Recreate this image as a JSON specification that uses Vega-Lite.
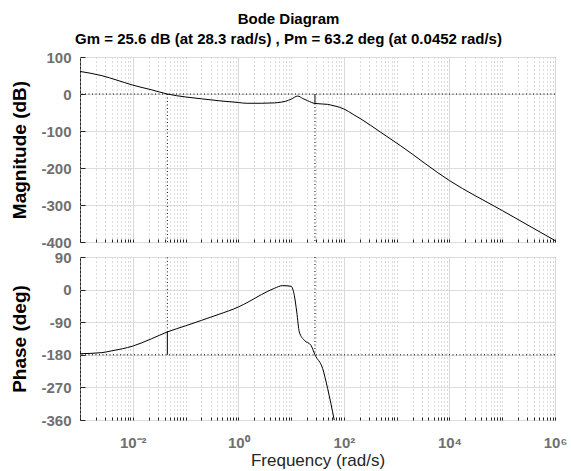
{
  "$schema": "https://vega.github.io/schema/vega-lite/v6.json",
  "autosize": {"type": "pad"},
  "padding": {"left": 9, "top": 11, "right": 5, "bottom": 3},
  "background": "white",
  "config": {
    "font": "Liberation Sans",
    "view": {"stroke": "#262626", "strokeWidth": 1},
    "axis": {
      "domain": false,
      "labelFont": "Liberation Sans",
      "labelFontWeight": "bold",
      "labelColor": "#6f6f6f",
      "labelFontSize": 15,
      "labelOverlap": false,
      "tickColor": "#262626",
      "gridWidth": 1,
      "gridOpacity": 1,
      "gridColor": "#dcdcdc",
      "titleFont": "Liberation Sans",
      "titleColor": "black"
    }
  },
  "datasets": {
    "mag": [
      {"f": 0.001, "mag": 61},
      {"f": 0.0026, "mag": 49.5},
      {"f": 0.005, "mag": 37.5},
      {"f": 0.01, "mag": 24},
      {"f": 0.0224, "mag": 11.5},
      {"f": 0.0452, "mag": 0},
      {"f": 0.1, "mag": -8},
      {"f": 0.2, "mag": -13},
      {"f": 0.414, "mag": -18},
      {"f": 1, "mag": -23},
      {"f": 1.41, "mag": -25},
      {"f": 2.72, "mag": -25},
      {"f": 4.84, "mag": -24},
      {"f": 6.5, "mag": -22},
      {"f": 7.9, "mag": -19.5},
      {"f": 10, "mag": -14},
      {"f": 13.4, "mag": -5.5},
      {"f": 16.5, "mag": -12},
      {"f": 20.5, "mag": -18},
      {"f": 28.3, "mag": -25.6},
      {"f": 49, "mag": -28},
      {"f": 65, "mag": -32},
      {"f": 83, "mag": -36},
      {"f": 100, "mag": -40.5},
      {"f": 150, "mag": -55},
      {"f": 210, "mag": -67.5},
      {"f": 500, "mag": -103.5},
      {"f": 1190, "mag": -140},
      {"f": 10000, "mag": -234},
      {"f": 100000, "mag": -315},
      {"f": 1000000, "mag": -396}
    ],
    "phase": [
      {"f": 0.001, "phase": -177},
      {"f": 0.0026, "phase": -174},
      {"f": 0.004, "phase": -169},
      {"f": 0.01, "phase": -156},
      {"f": 0.0224, "phase": -136},
      {"f": 0.0452, "phase": -116.8},
      {"f": 0.1, "phase": -100},
      {"f": 0.2, "phase": -85},
      {"f": 0.414, "phase": -69},
      {"f": 1, "phase": -48},
      {"f": 1.6, "phase": -33},
      {"f": 2.72, "phase": -14},
      {"f": 4.84, "phase": 3.7},
      {"f": 6.97, "phase": 11},
      {"f": 10, "phase": 9},
      {"f": 11.5, "phase": -16},
      {"f": 12.8, "phase": -62},
      {"f": 14.3, "phase": -117},
      {"f": 17.8, "phase": -140},
      {"f": 23.8, "phase": -154},
      {"f": 28.3, "phase": -180},
      {"f": 39.6, "phase": -218},
      {"f": 49.2, "phase": -273},
      {"f": 65.6, "phase": -360}
    ],
    "margins": [
      {"wcg": 28.3, "gm_db": -25.6, "wcp": 0.0452, "pm_phase": -116.8}
    ]
  },
  "bounds": "flush",
  "spacing": 15,
  "vconcat": [
    {
      "width": 475,
      "height": 185,
      "title": {
        "text": "Bode Diagram",
        "subtitle": "Gm = 25.6 dB (at 28.3 rad/s) ,  Pm = 63.2 deg (at 0.0452 rad/s)",
        "anchor": "middle",
        "dx": -29,
        "font": "Liberation Sans",
        "fontSize": 15,
        "fontWeight": "bold",
        "color": "black",
        "subtitleFont": "Liberation Sans",
        "subtitleFontSize": 15,
        "subtitleFontWeight": "bold",
        "subtitleColor": "black",
        "subtitlePadding": 5,
        "offset": 3
      },
      "layer": [
        {
          "data": {"name": "mag"},
          "mark": {"type": "line", "color": "black", "strokeWidth": 1, "interpolate": "monotone", "clip": true},
          "encoding": {
            "x": {
              "field": "f", "type": "quantitative",
              "scale": {"type": "log", "domain": [0.001, 1000000], "nice": false},
              "axis": {
                "title": null,
                "labels": false,
                "values": [0.001,0.002,0.003,0.004,0.005,0.006,0.007,0.008,0.009,0.01,0.02,0.03,0.04,0.05,0.06,0.07,0.08,0.09,0.1,0.2,0.3,0.4,0.5,0.6,0.7,0.8,0.9,1,2,3,4,5,6,7,8,9,10,20,30,40,50,60,70,80,90,100,200,300,400,500,600,700,800,900,1000,2000,3000,4000,5000,6000,7000,8000,9000,10000,20000,30000,40000,50000,60000,70000,80000,90000,100000,200000,300000,400000,500000,600000,700000,800000,900000,1000000],
                "tickSize": -3,
                "gridDash": {"condition": {"test": "abs(log(datum.value)/LN10 - round(log(datum.value)/LN10)) < 0.001 && round(log(datum.value)/LN10) % 2 == 0", "value": []}, "value": [1, 3]},
                "gridColor": {"condition": {"test": "abs(log(datum.value)/LN10 - round(log(datum.value)/LN10)) < 0.001 && round(log(datum.value)/LN10) % 2 == 0", "value": "#d9d9d9"}, "value": "#b8b8b8"}
              }
            },
            "y": {
              "field": "mag", "type": "quantitative",
              "scale": {"domain": [-400, 100], "nice": false, "zero": false},
              "axis": {"title": "Magnitude (dB)", "values": [-400, -300, -200, -100, 0, 100], "labelOverlap": false, "labelExpr": "'' + datum.value", "tickSize": -5, "labelPadding": 14, "titleFontSize": 19, "titleFontWeight": "bold", "titleAngle": 270, "titleBaseline": "alphabetic", "titleX": -55}
            }
          }
        },
        {
          "data": {"name": "margins"},
          "mark": {"type": "rule", "color": "black", "strokeWidth": 1, "strokeDash": [1, 2.5]},
          "encoding": {"y": {"datum": 0, "type": "quantitative", "axis": {"title": "Magnitude (dB)", "values": [-400, -300, -200, -100, 0, 100], "labelOverlap": false, "labelExpr": "'' + datum.value", "tickSize": -5, "labelPadding": 14, "titleFontSize": 19, "titleFontWeight": "bold", "titleAngle": 270, "titleBaseline": "alphabetic", "titleX": -55}}}
        },
        {
          "data": {"name": "margins"},
          "mark": {"type": "rule", "color": "black", "strokeWidth": 1, "strokeDash": [1, 2.5]},
          "encoding": {"x": {"field": "wcp", "type": "quantitative"}, "y": {"datum": 0, "type": "quantitative", "axis": {"title": "Magnitude (dB)", "values": [-400, -300, -200, -100, 0, 100], "labelOverlap": false, "labelExpr": "'' + datum.value", "tickSize": -5, "labelPadding": 14, "titleFontSize": 19, "titleFontWeight": "bold", "titleAngle": 270, "titleBaseline": "alphabetic", "titleX": -55}}, "y2": {"datum": -400}}
        },
        {
          "data": {"name": "margins"},
          "mark": {"type": "rule", "color": "black", "strokeWidth": 1, "strokeDash": [1, 2.5]},
          "encoding": {"x": {"field": "wcg", "type": "quantitative"}, "y": {"field": "gm_db", "type": "quantitative", "axis": {"title": "Magnitude (dB)", "values": [-400, -300, -200, -100, 0, 100], "labelOverlap": false, "labelExpr": "'' + datum.value", "tickSize": -5, "labelPadding": 14, "titleFontSize": 19, "titleFontWeight": "bold", "titleAngle": 270, "titleBaseline": "alphabetic", "titleX": -55}}, "y2": {"datum": -400}}
        },
        {
          "data": {"name": "margins"},
          "mark": {"type": "rule", "color": "black", "strokeWidth": 1},
          "encoding": {"x": {"field": "wcg", "type": "quantitative"}, "y": {"field": "gm_db", "type": "quantitative", "axis": {"title": "Magnitude (dB)", "values": [-400, -300, -200, -100, 0, 100], "labelOverlap": false, "labelExpr": "'' + datum.value", "tickSize": -5, "labelPadding": 14, "titleFontSize": 19, "titleFontWeight": "bold", "titleAngle": 270, "titleBaseline": "alphabetic", "titleX": -55}}, "y2": {"datum": 0}}
        }
      ]
    },
    {
      "width": 475,
      "height": 163,
      "layer": [
        {
          "data": {"name": "phase"},
          "mark": {"type": "line", "color": "black", "strokeWidth": 1, "interpolate": "monotone", "clip": true},
          "encoding": {
            "x": {
              "field": "f", "type": "quantitative",
              "scale": {"type": "log", "domain": [0.001, 1000000], "nice": false},
              "axis": {
                "title": "Frequency  (rad/s)",
                "titleFontSize": 17,
                "titleFontWeight": "normal",
                "titleColor": "#262626",
                "titleBaseline": "alphabetic",
                "titleY": 45,
                "labelFlush": false,
                "labelFontSize": 15,
                "labelBaseline": "alphabetic",
                "labelPadding": 30,
                "values": [0.001,0.002,0.003,0.004,0.005,0.006,0.007,0.008,0.009,0.01,0.02,0.03,0.04,0.05,0.06,0.07,0.08,0.09,0.1,0.2,0.3,0.4,0.5,0.6,0.7,0.8,0.9,1,2,3,4,5,6,7,8,9,10,20,30,40,50,60,70,80,90,100,200,300,400,500,600,700,800,900,1000,2000,3000,4000,5000,6000,7000,8000,9000,10000,20000,30000,40000,50000,60000,70000,80000,90000,100000,200000,300000,400000,500000,600000,700000,800000,900000,1000000],
                "labelExpr": "abs(log(datum.value)/LN10 - round(log(datum.value)/LN10)) > 0.001 ? '' : round(log(datum.value)/LN10) == -2 ? '10⁻²' : round(log(datum.value)/LN10) == 0 ? '10⁰' : round(log(datum.value)/LN10) == 2 ? '10²' : round(log(datum.value)/LN10) == 4 ? '10⁴' : round(log(datum.value)/LN10) == 6 ? '10⁶' : ''",
                "tickSize": -3,
                "gridDash": {"condition": {"test": "abs(log(datum.value)/LN10 - round(log(datum.value)/LN10)) < 0.001 && round(log(datum.value)/LN10) % 2 == 0", "value": []}, "value": [1, 3]},
                "gridColor": {"condition": {"test": "abs(log(datum.value)/LN10 - round(log(datum.value)/LN10)) < 0.001 && round(log(datum.value)/LN10) % 2 == 0", "value": "#d9d9d9"}, "value": "#b8b8b8"}
              }
            },
            "y": {
              "field": "phase", "type": "quantitative",
              "scale": {"domain": [-360, 90], "nice": false, "zero": false},
              "axis": {"title": "Phase (deg)", "values": [-360, -270, -180, -90, 0, 90], "labelOverlap": false, "labelExpr": "'' + datum.value", "tickSize": -5, "labelPadding": 14, "titleFontSize": 19, "titleFontWeight": "bold", "titleAngle": 270, "titleBaseline": "alphabetic", "titleX": -55}
            }
          }
        },
        {
          "data": {"name": "margins"},
          "mark": {"type": "rule", "color": "black", "strokeWidth": 1, "strokeDash": [1, 2.5]},
          "encoding": {"y": {"datum": -180, "type": "quantitative", "axis": {"title": "Phase (deg)", "values": [-360, -270, -180, -90, 0, 90], "labelOverlap": false, "labelExpr": "'' + datum.value", "tickSize": -5, "labelPadding": 14, "titleFontSize": 19, "titleFontWeight": "bold", "titleAngle": 270, "titleBaseline": "alphabetic", "titleX": -55}}}
        },
        {
          "data": {"name": "margins"},
          "mark": {"type": "rule", "color": "black", "strokeWidth": 1, "strokeDash": [1, 2.5]},
          "encoding": {"x": {"field": "wcp", "type": "quantitative"}, "y": {"field": "pm_phase", "type": "quantitative", "axis": {"title": "Phase (deg)", "values": [-360, -270, -180, -90, 0, 90], "labelOverlap": false, "labelExpr": "'' + datum.value", "tickSize": -5, "labelPadding": 14, "titleFontSize": 19, "titleFontWeight": "bold", "titleAngle": 270, "titleBaseline": "alphabetic", "titleX": -55}}, "y2": {"datum": 90}}
        },
        {
          "data": {"name": "margins"},
          "mark": {"type": "rule", "color": "black", "strokeWidth": 1},
          "encoding": {"x": {"field": "wcp", "type": "quantitative"}, "y": {"field": "pm_phase", "type": "quantitative", "axis": {"title": "Phase (deg)", "values": [-360, -270, -180, -90, 0, 90], "labelOverlap": false, "labelExpr": "'' + datum.value", "tickSize": -5, "labelPadding": 14, "titleFontSize": 19, "titleFontWeight": "bold", "titleAngle": 270, "titleBaseline": "alphabetic", "titleX": -55}}, "y2": {"datum": -180}}
        },
        {
          "data": {"name": "margins"},
          "mark": {"type": "rule", "color": "black", "strokeWidth": 1, "strokeDash": [1, 2.5]},
          "encoding": {"x": {"field": "wcg", "type": "quantitative"}, "y": {"datum": 90, "type": "quantitative", "axis": {"title": "Phase (deg)", "values": [-360, -270, -180, -90, 0, 90], "labelOverlap": false, "labelExpr": "'' + datum.value", "tickSize": -5, "labelPadding": 14, "titleFontSize": 19, "titleFontWeight": "bold", "titleAngle": 270, "titleBaseline": "alphabetic", "titleX": -55}}, "y2": {"datum": -180}}
        }
      ]
    }
  ]
}
